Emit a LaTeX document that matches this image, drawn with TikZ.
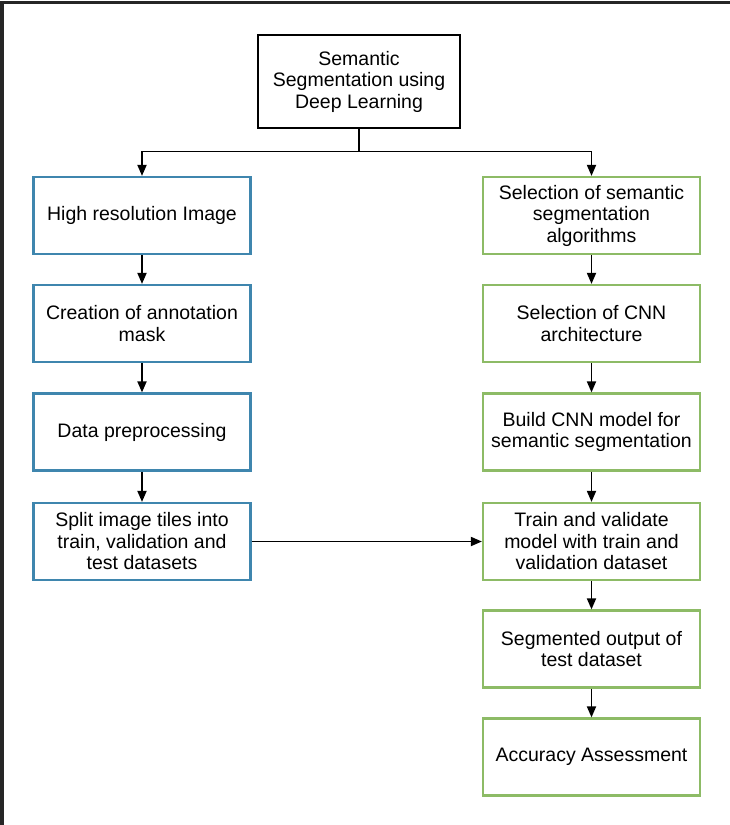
\documentclass[tikz,border=0pt]{standalone}
\usepackage{fontspec}
\setmainfont{Liberation Sans}
\usetikzlibrary{arrows.meta,positioning}

\definecolor{leftblue}{HTML}{3F86AE}
\definecolor{rightgreen}{HTML}{8DBB66}

\begin{document}
\begin{tikzpicture}[x=1pt, y=-1pt, >={Triangle[length=11pt,width=9pt]},
    box/.style = {draw, line width=2.2pt, align=center, inner sep=2pt,
                  minimum width=217pt, minimum height=77pt,
                  font=\fontsize{19.5pt}{21.5pt}\selectfont},
    leftbox/.style = {box, draw=leftblue},
    rightbox/.style = {box, draw=rightgreen}]
    \useasboundingbox (0,0) rectangle (730,825);
    % frame (only top and left edges are left in the picture)
    \draw[line width=3.5pt, black!85] (2,825) -- (2,2.5) -- (730,2.5);

    \node[box, draw=black, minimum width=202pt, minimum height=93pt] (Top) at (359, 81.5)
        {Semantic\\Segmentation using\\Deep Learning};

    \node[leftbox] (L1) at (142, 215.5) {High resolution Image};
    \node[leftbox] (L2) at (142, 323.5) {Creation of annotation\\mask};
    \node[leftbox] (L3) at (142, 432) {Data preprocessing};
    \node[leftbox] (L4) at (142, 541.5) {Split image tiles into\\train, validation and\\test datasets};

    \node[rightbox] (R1) at (591.5, 215.5) {Selection of semantic\\segmentation\\algorithms};
    \node[rightbox] (R2) at (591.5, 323.5) {Selection of CNN\\architecture};
    \node[rightbox] (R3) at (591.5, 432) {Build CNN model for\\semantic segmentation};
    \node[rightbox] (R4) at (591.5, 541.5) {Train and validate\\model with train and\\validation dataset};
    \node[rightbox] (R5) at (591.5, 649) {Segmented output of\\test dataset};
    \node[rightbox] (R6) at (591.5, 757) {Accuracy Assessment};

    \coordinate (Split) at (359, 151.5);

    \begin{scope}[line width=1.8pt]
    \draw (Top) -- (Split);
    \draw[->] (Split) -| (L1);
    \draw[->] (Split) -| (R1);

    \draw[->] (L1) -- (L2);
    \draw[->] (L2) -- (L3);
    \draw[->] (L3) -- (L4);

    \draw[->] (R1) -- (R2);
    \draw[->] (R2) -- (R3);
    \draw[->] (R3) -- (R4);
    \draw[->] (R4) -- (R5);
    \draw[->] (R5) -- (R6);

    \draw[->] (L4) -- (R4);
    \end{scope}
\end{tikzpicture}
\end{document}
